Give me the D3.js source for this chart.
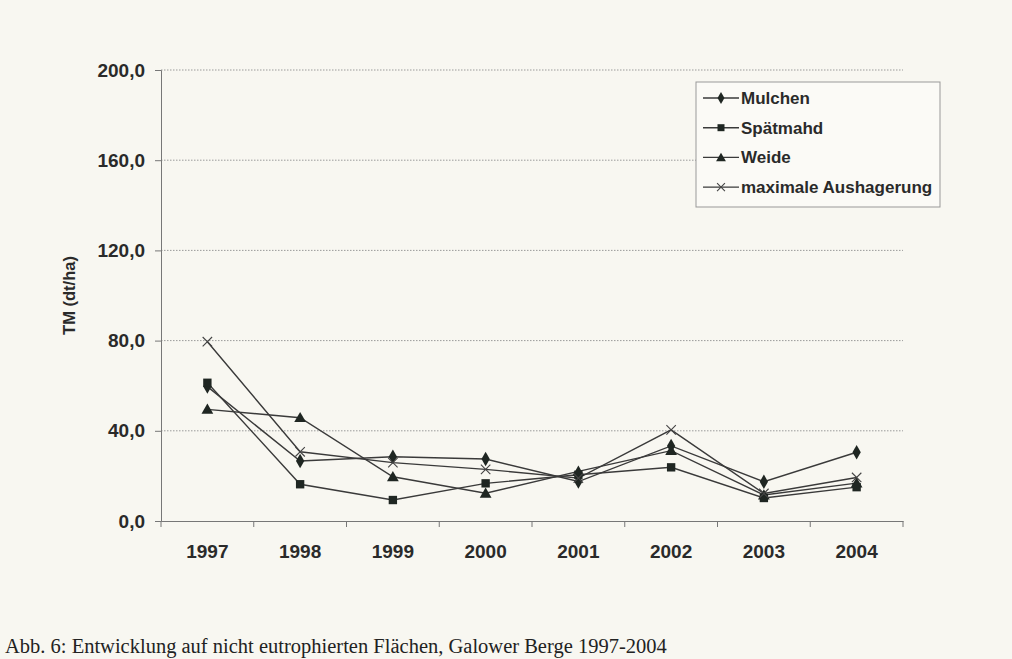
<!DOCTYPE html>
<html><head><meta charset="utf-8">
<script src="https://cdn.jsdelivr.net/npm/d3@7"></script>
<style>
html,body{margin:0;padding:0;background:#f8f7f1;}
svg{display:block;}
</style></head>
<body>
<script>
const years = ["1997","1998","1999","2000","2001","2002","2003","2004"];
const mulchen = [59.6, 26.6, 28.5, 27.5, 17.5, 33.3, 17.4, 30.5];
const spaetmahd = [61.3, 16.3, 9.3, 16.7, 20.5, 23.8, 10.2, 15.0];
const weide = [49.5, 45.8, 19.6, 12.3, 22.0, 31.2, 11.5, 16.8];
const maxAush = [79.5, 30.7, 25.9, 22.9, 19.0, 40.4, 12.2, 19.3];
const seriesNames = ["Mulchen","Spätmahd","Weide","maximale Aushagerung"];
const yTicks = [0, 40, 80, 120, 160, 200];
const caption = "Abb. 6: Entwicklung auf nicht eutrophierten Flächen, Galower Berge 1997-2004";

(function(){
const series = [
  {name: seriesNames[0], values: mulchen, sym: "diamond"},
  {name: seriesNames[1], values: spaetmahd, sym: "square"},
  {name: seriesNames[2], values: weide, sym: "triangle"},
  {name: seriesNames[3], values: maxAush, sym: "x"}
];

const W = 1012, H = 659;
const svg = d3.select("body").append("svg").attr("width", W).attr("height", H);
svg.append("rect").attr("width", W).attr("height", H).attr("fill", "#f8f7f1");

const pL = 161, pR = 903, pT = 70, pB = 521;
const x = d3.scaleBand().domain(years).range([pL, pR]);
const y = d3.scaleLinear().domain([0, 200]).range([pB, pT]);
const sans = "Liberation Sans, Arial, sans-serif";

svg.append("g").selectAll("line").data(yTicks.filter(d => d > 0)).join("line")
  .attr("x1", pL).attr("x2", pR)
  .attr("y1", d => y(d)).attr("y2", d => y(d))
  .attr("stroke", "#9a9a9a").attr("stroke-width", 1).attr("stroke-dasharray", "1.5,1.5");

const fmt = d => d3.format(".1f")(d).replace(".", ",");
const yAxis = svg.append("g").attr("transform", `translate(${pL},0)`)
  .call(d3.axisLeft(y).tickValues(yTicks).tickFormat(fmt).tickSize(6).tickPadding(10));
yAxis.select(".domain").attr("stroke", "#777");
yAxis.selectAll(".tick line").attr("stroke", "#777");
yAxis.selectAll("text").attr("font-family", sans)
  .attr("font-size", 19).attr("font-weight", "bold").attr("fill", "#2a2a2a");

const xAxis = svg.append("g").attr("transform", `translate(0,${pB})`)
  .call(d3.axisBottom(x).tickSize(0).tickPadding(24));
xAxis.select(".domain").attr("stroke", "#777");
xAxis.selectAll("text").attr("font-family", sans)
  .attr("font-size", 19).attr("font-weight", "bold").attr("fill", "#2a2a2a");
const bounds = years.map(d => x(d)).concat([x(years[years.length-1]) + x.bandwidth()]);
svg.append("g").selectAll("line").data(bounds).join("line")
  .attr("x1", d => d).attr("x2", d => d).attr("y1", pB).attr("y2", pB + 6)
  .attr("stroke", "#777");

svg.append("text").attr("transform", `translate(75,${(pT + pB) / 2}) rotate(-90)`)
  .attr("text-anchor", "middle").attr("font-family", sans)
  .attr("font-size", 16.5).attr("font-weight", "bold").attr("fill", "#2a2a2a").text("TM (dt/ha)");

const cx = d => x(d) + x.bandwidth() / 2;
const line = d3.line().x((d, i) => cx(years[i])).y(d => y(d));

function marker(g, sym, px, py, k) {
  const c = "#1f2622";
  k = k || 1;
  if (sym === "diamond") {
    g.append("path").attr("d", d3.symbol(d3.symbolDiamond, 60 * k)()).attr("transform", `translate(${px},${py})`).attr("fill", c);
  } else if (sym === "square") {
    g.append("path").attr("d", d3.symbol(d3.symbolSquare, 70 * k)()).attr("transform", `translate(${px},${py})`).attr("fill", c);
  } else if (sym === "triangle") {
    g.append("path").attr("d", d3.symbol(d3.symbolTriangle, 60 * k)()).attr("transform", `translate(${px},${py + 1})`).attr("fill", c);
  } else {
    g.append("path").attr("d", d3.symbol(d3.symbolTimes, 60 * k)()).attr("transform", `translate(${px},${py})`)
      .attr("fill", "none").attr("stroke", "#444").attr("stroke-width", 1.1);
  }
}

const plot = svg.append("g");
series.forEach(s => {
  plot.append("path").datum(s.values).attr("d", line)
    .attr("fill", "none").attr("stroke", "#3a3a3a").attr("stroke-width", 1.4);
});
series.forEach(s => {
  const g = plot.append("g");
  s.values.forEach((v, i) => marker(g, s.sym, cx(years[i]), y(v)));
});

const lg = svg.append("g");
lg.append("rect").attr("x", 696).attr("y", 82).attr("width", 244).attr("height", 125)
  .attr("fill", "#fbfaf6").attr("stroke", "#999").attr("stroke-width", 1);
series.forEach((s, i) => {
  const ly = 98 + i * 29.7;
  lg.append("line").attr("x1", 703).attr("x2", 739).attr("y1", ly).attr("y2", ly)
    .attr("stroke", "#3a3a3a").attr("stroke-width", 1.4);
  marker(lg, s.sym, 721, ly, 0.7);
  lg.append("text").attr("x", 741).attr("y", ly + 6)
    .attr("font-family", sans).attr("font-size", 17)
    .attr("font-weight", "bold").attr("fill", "#2a2a2a").text(s.name);
});

svg.append("text").attr("x", 5).attr("y", 653)
  .attr("font-family", "Liberation Serif, Times New Roman, serif").attr("font-size", 20.5)
  .attr("fill", "#222").text(caption);
})();
</script>
</body></html>
